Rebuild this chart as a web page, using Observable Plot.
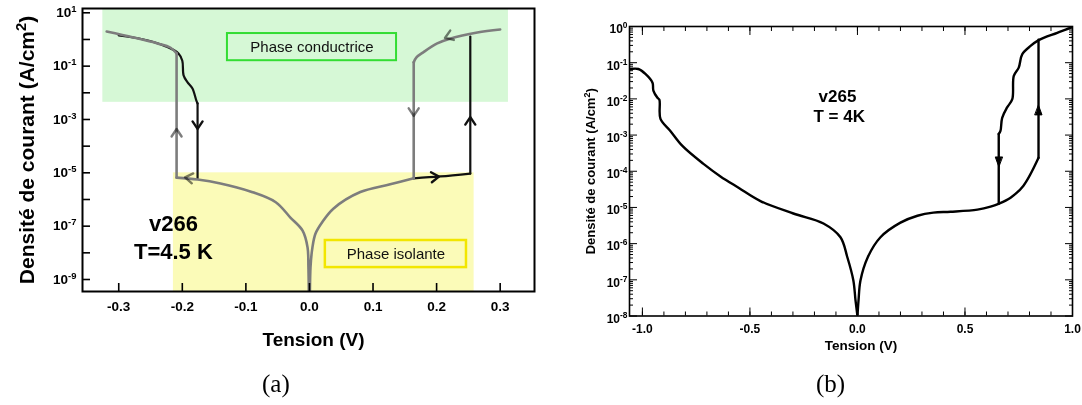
<!DOCTYPE html>
<html><head><meta charset="utf-8">
<script src="https://cdn.jsdelivr.net/npm/d3@7"></script>
<script src="https://cdn.jsdelivr.net/npm/@observablehq/plot@0.6"></script>
<style>
body{margin:0;background:#fff;width:1082px;height:405px;position:relative;overflow:hidden;font-family:"Liberation Sans",Arial,sans-serif}
#a{position:absolute;left:0;top:0}
#b{position:absolute;left:545px;top:0}
.cap{position:absolute;font-family:"Liberation Serif","DejaVu Serif",serif;font-size:25px;line-height:1;top:371px}
</style></head><body>
<div id="a"></div><div id="b"></div>
<div class="cap" style="left:262px">(a)</div>
<div class="cap" style="left:816px">(b)</div>
<script>
// ---------- Panel (a) data: v266, T=4.5 K ----------
const aXDomain = [-0.357, 0.354];
const aYDomain = [3.55e-10, 14.5];
const aXTicks = [-0.3, -0.2, -0.1, 0, 0.1, 0.2, 0.3];
const aYTicks = [1e-9, 1e-8, 1e-7, 1e-6, 1e-5, 1e-4, 1e-3, 1e-2, 1e-1, 1, 10];
const aYLabelTicks = [1e-9, 1e-7, 1e-5, 1e-3, 1e-1, 10];

const aGrayLeftV = [-0.319, -0.277, -0.239, -0.219, -0.209, -0.209];
const aGrayLeftJ = [2.0, 1.19, 0.71, 0.50, 0.30, 6.6e-6];
const aBlackLeftV = [-0.300, -0.261, -0.226, -0.206, -0.200, -0.198, -0.192, -0.184, -0.178, -0.176, -0.176];
const aBlackLeftJ = [1.41, 1.0, 0.55, 0.30, 0.16, 0.045, 0.025, 0.0146, 0.0052, 0.004, 6.2e-6];
const aCenterV = [-0.209, -0.176, -0.140, -0.093, -0.053, -0.030, -0.011, -0.003, -0.0016, 0, 0.0016, 0.0047, 0.0094, 0.020, 0.038, 0.080, 0.127, 0.164];
const aCenterJ = [6.6e-6, 5.6e-6, 4.0e-6, 2.0e-6, 7.9e-7, 2.1e-7, 6.9e-8, 1.6e-8, 2.8e-9, 1e-11, 2.8e-9, 1.6e-8, 5.2e-8, 1.4e-7, 4.6e-7, 1.9e-6, 3.7e-6, 6.2e-6];
const aGrayRightV = [0.300, 0.264, 0.222, 0.201, 0.179, 0.168, 0.164, 0.164];
const aGrayRightJ = [2.37, 1.82, 1.09, 0.71, 0.33, 0.21, 0.14, 6.2e-6];
const aBlackRightV = [0.164, 0.206, 0.253, 0.253];
const aBlackRightJ = [6.2e-6, 7.3e-6, 9.4e-6, 1.29];

const aArrowV   = [-0.209, -0.176, -0.198, 0.164, 0.253, 0.206, 0.211];
const aArrowJ   = [5e-4, 3.9e-4, 6.9e-6, 1.2e-3, 1.4e-3, 7.3e-6, 1.09];
const aArrowDir = [0, 180, 278, 180, 0, 85, 249];
const aArrowInk = ["gray", "black", "gray", "gray", "black", "black", "gray"];

const aConductZoneV = [-0.325, 0.313], aConductZoneJ = [4.4e-3, 14.5];
const aInsulZoneV = [-0.214, 0.259], aInsulZoneJ = [3.55e-10, 1.0e-5];
const aCondBoxV = [-0.129, 0.137], aCondBoxJ = [0.16, 1.67];
const aIsolBoxV = [0.025, 0.247], aIsolBoxJ = [2.8e-9, 2.9e-8];
const aBoxText = ["Phase conductrice", "Phase isolante"];
const aBoxTextV = [0.004, 0.136], aBoxTextJ = [0.52, 9e-9];
const aNotes = ["v266", "T=4.5 K"], aNoteV = [-0.214, -0.214], aNoteJ = [1.26e-7, 1.1e-8];

// ---------- Panel (b) data: v265, T = 4K ----------
const bXDomain = [-1.06, 1.0];
const bYDomain = [1e-8, 1];
const bXTicks = [-1.0, -0.5, 0, 0.5, 1.0];
const bYTicks = [1e-8, 1e-7, 1e-6, 1e-5, 1e-4, 1e-3, 1e-2, 1e-1, 1];

const bLeftV = [-1.056, -1.019, -0.986, -0.953, -0.949, -0.930, -0.921, -0.916, -0.870, -0.814, -0.716, -0.637, -0.553, -0.451, -0.298, -0.158, -0.079, -0.047, -0.019, -0.009, 0];
const bLeftJ = [0.067, 0.067, 0.049, 0.028, 0.017, 0.0107, 0.0094, 0.0028, 0.0013, 5.0e-4, 1.6e-4, 7.2e-5, 3.5e-5, 1.5e-5, 6.8e-6, 3.6e-6, 1.5e-6, 4.2e-7, 9.6e-8, 2.7e-8, 1e-8];
const bRightV = [0, 0.005, 0.014, 0.047, 0.107, 0.200, 0.279, 0.353, 0.433, 0.558, 0.619, 0.656, 0.712, 0.772, 0.842, 0.842];
const bRightJ = [1e-8, 2.7e-8, 9.6e-8, 4.1e-7, 1.5e-6, 3.8e-6, 5.9e-6, 7.2e-6, 7.6e-6, 8.7e-6, 1.05e-5, 1.26e-5, 1.86e-5, 4.0e-5, 2.35e-4, 0.43];
const bUpperV = [1.0, 0.991, 0.929, 0.843, 0.805, 0.766, 0.750, 0.727, 0.720, 0.696, 0.673, 0.665, 0.657, 0.657];
const bUpperJ = [1.0, 0.93, 0.67, 0.42, 0.29, 0.17, 0.073, 0.043, 0.0098, 0.0058, 0.0030, 0.0013, 0.00107, 1.26e-5];
const bArrowV = [0.657, 0.842], bArrowJ = [1.4e-4, 6.4e-3], bArrowDir = [180, 0];
const bNotes = ["v265", "T = 4K"], bNoteV = [-0.093, -0.085], bNoteJ = [0.0114, 0.0032];

// ---------- helpers ----------
// split a sweep into smooth runs and vertical jumps (same V), so that only the runs are smoothed
function pieces(V, J) {
  const out = []; let cur = null, id = 0;
  for (let i = 0; i < V.length - 1; i++) {
    const kind = V[i] === V[i + 1] ? "jump" : "run";
    if (!cur || cur.kind !== kind) { cur = {kind, id: id++, pts: [{V: V[i], J: J[i]}]}; out.push(cur); }
    cur.pts.push({V: V[i + 1], J: J[i + 1]});
  }
  return out.flatMap(p => p.pts.map(d => ({...d, seg: p.id, kind: p.kind})));
}
function sweep(V, J, opts) {
  const rows = pieces(V, J);
  return [
    Plot.line(rows.filter(d => d.kind === "run"), {x: "V", y: "J", z: "seg", curve: "catmull-rom", clip: true, ...opts}),
    Plot.line(rows.filter(d => d.kind === "jump"), {x: "V", y: "J", z: "seg", clip: true, ...opts})
  ];
}
const box = (V, J) => [{x1: V[0], x2: V[1], y1: J[0], y2: J[1]}];
const fmtPow = d => `10^{${Math.round(Math.log10(d))}}`;
const blank = () => "";
const chevron = {draw(c) { c.moveTo(-5, 4); c.lineTo(0, -3.5); c.lineTo(5, 4); }};
const tri = {draw(c) { c.moveTo(0, -5.5); c.lineTo(3.5, 4); c.lineTo(-3.5, 4); c.closePath(); }};
const bYMinor = bYTicks.slice(0, -1).flatMap(d => [2,3,4,5,6,7,8,9].map(k => k * d));
const bXMinor = d3.range(-10, 11).map(k => k / 10);
const font = "'Liberation Sans', Arial, sans-serif";
const GRAY = "#7d7d7d";
const blackA = {stroke: "#111", strokeWidth: 2.2};
const grayA = {stroke: GRAY, strokeWidth: 2.6, mixBlendMode: "multiply"};
const blackB = {stroke: "#000", strokeWidth: 2.4};

const aArrows = aArrowV.map((v, i) => ({V: v, J: aArrowJ[i], dir: aArrowDir[i], ink: aArrowInk[i]}));

const plotA = Plot.plot({
  width: 545, height: 360, marginLeft: 82, marginTop: 8, marginRight: 11, marginBottom: 69,
  x: {domain: aXDomain, label: null},
  y: {type: "log", domain: aYDomain, label: null},
  style: {fontFamily: font, color: "#000", background: "transparent"},
  marks: [
    Plot.rect(box(aConductZoneV, aConductZoneJ), {x1: "x1", x2: "x2", y1: "y1", y2: "y2", fill: "#d6f8d6"}),
    Plot.rect(box(aInsulZoneV, aInsulZoneJ), {x1: "x1", x2: "x2", y1: "y1", y2: "y2", fill: "#fbfbb8"}),
    Plot.rect(box(aCondBoxV, aCondBoxJ), {x1: "x1", x2: "x2", y1: "y1", y2: "y2", fill: "none", stroke: "#33dd33", strokeWidth: 2}),
    Plot.rect(box(aIsolBoxV, aIsolBoxJ), {x1: "x1", x2: "x2", y1: "y1", y2: "y2", fill: "none", stroke: "#f2e600", strokeWidth: 2.5}),
    Plot.text(aBoxText, {x: (d, i) => aBoxTextV[i], y: (d, i) => aBoxTextJ[i], text: d => d, fontSize: 15, fill: "#111"}),
    ...sweep(aBlackLeftV, aBlackLeftJ, blackA),
    ...sweep(aBlackRightV, aBlackRightJ, blackA),
    ...sweep(aGrayLeftV, aGrayLeftJ, grayA),
    ...sweep(aCenterV, aCenterJ, grayA),
    ...sweep(aGrayRightV, aGrayRightJ, grayA),
    Plot.vector(aArrows.filter(d => d.ink === "black"), {x: "V", y: "J", rotate: "dir", length: 10, shape: chevron, stroke: "#111", strokeWidth: 2.4}),
    Plot.vector(aArrows.filter(d => d.ink === "gray"), {x: "V", y: "J", rotate: "dir", length: 10, shape: chevron, stroke: GRAY, strokeWidth: 2.4, mixBlendMode: "multiply"}),
    Plot.text(aNotes, {x: (d, i) => aNoteV[i], y: (d, i) => aNoteJ[i], text: d => d, fontSize: 22, fontWeight: "bold", fill: "#000"}),
    Plot.axisY(aYLabelTicks, {anchor: "left", tickSize: 0, tickPadding: 6, tickFormat: fmtPow, fontSize: 13.5, fontWeight: "bold", label: null}),
    Plot.axisY(aYTicks, {anchor: "left", tickSize: -8, tickFormat: blank, strokeWidth: 1.6, label: null}),
    Plot.axisX(aXTicks, {anchor: "bottom", tickSize: 0, tickPadding: 10, tickFormat: d => d.toFixed(1), fontSize: 13.5, fontWeight: "bold", label: null}),
    Plot.axisX(aXTicks, {anchor: "bottom", tickSize: -8, tickFormat: blank, strokeWidth: 1.6, label: null}),
    Plot.text(["Densité de courant (A/cm^{2})"], {frameAnchor: "left", dx: -55, rotate: -90, textAnchor: "middle", lineAnchor: "middle", text: d => d, fontSize: 21, fontWeight: "bold"}),
    Plot.text(["Tension (V)"], {frameAnchor: "bottom", dx: 5, dy: 48, textAnchor: "middle", lineAnchor: "middle", text: d => d, fontSize: 19, fontWeight: "bold"}),
    Plot.frame({stroke: "#000", strokeWidth: 2})
  ]
});

const bArrows = bArrowV.map((v, i) => ({V: v, J: bArrowJ[i], dir: bArrowDir[i]}));

const plotB = Plot.plot({
  width: 537, height: 370, marginLeft: 84, marginTop: 26, marginRight: 10, marginBottom: 54.5,
  x: {domain: bXDomain, label: null},
  y: {type: "log", domain: bYDomain, label: null},
  style: {fontFamily: font, color: "#000", background: "transparent"},
  marks: [
    ...sweep(bLeftV, bLeftJ, blackB),
    ...sweep(bRightV, bRightJ, blackB),
    ...sweep(bUpperV, bUpperJ, blackB),
    Plot.vector(bArrows, {x: "V", y: "J", rotate: "dir", length: 10, shape: tri, fill: "#000", stroke: "#000", strokeWidth: 1}),
    Plot.text(bNotes, {x: (d, i) => bNoteV[i], y: (d, i) => bNoteJ[i], text: d => d, fontSize: 17, fontWeight: "bold", fill: "#000"}),
    Plot.axisY(bYTicks, {anchor: "left", tickSize: 0, tickPadding: 2, dy: 3, tickFormat: fmtPow, fontSize: 12, fontWeight: "bold", label: null}),
    Plot.axisY(bYTicks, {anchor: "left", tickSize: -8, tickFormat: blank, label: null}),
    Plot.axisY(bYMinor, {anchor: "left", tickSize: -4, tickFormat: blank, label: null}),
    Plot.axisY(bYTicks, {anchor: "right", tickSize: -8, tickFormat: blank, label: null}),
    Plot.axisY(bYMinor, {anchor: "right", tickSize: -4, tickFormat: blank, label: null}),
    Plot.axisX(bXTicks, {anchor: "bottom", tickSize: 0, tickPadding: 8, tickFormat: d => d.toFixed(1), fontSize: 12, fontWeight: "bold", label: null}),
    Plot.axisX(bXTicks, {anchor: "bottom", tickSize: -8, tickFormat: blank, label: null}),
    Plot.axisX(bXMinor, {anchor: "bottom", tickSize: -4, tickFormat: blank, label: null}),
    Plot.axisX(bXTicks, {anchor: "top", tickSize: -8, tickFormat: blank, label: null}),
    Plot.axisX(bXMinor, {anchor: "top", tickSize: -4, tickFormat: blank, label: null}),
    Plot.text(["Densité de courant (A/cm^{2})"], {frameAnchor: "left", dx: -39, rotate: -90, textAnchor: "middle", lineAnchor: "middle", text: d => d, fontSize: 13, fontWeight: "bold"}),
    Plot.text(["Tension (V)"], {frameAnchor: "bottom", dx: 10, dy: 30, textAnchor: "middle", lineAnchor: "middle", text: d => d, fontSize: 13.5, fontWeight: "bold"}),
    Plot.frame({stroke: "#000", strokeWidth: 1.6})
  ]
});

function supify(svg) {
  const NS = "http://www.w3.org/2000/svg";
  svg.querySelectorAll("text").forEach(t => {
    const targets = t.querySelector("tspan") ? [...t.querySelectorAll("tspan")] : [t];
    targets.forEach(el => {
      const s = el.textContent;
      if (!s.includes("^{")) return;
      el.textContent = "";
      const re = /\^\{([^}]*)\}/g;
      let last = 0, m;
      while ((m = re.exec(s))) {
        if (m.index > last) el.appendChild(document.createTextNode(s.slice(last, m.index)));
        const sup = document.createElementNS(NS, "tspan");
        sup.setAttribute("baseline-shift", "super");
        sup.setAttribute("font-size", "70%");
        sup.textContent = m[1];
        el.appendChild(sup);
        last = re.lastIndex;
      }
      if (last < s.length) el.appendChild(document.createTextNode(s.slice(last)));
    });
  });
}
supify(plotA); supify(plotB);
document.getElementById("a").appendChild(plotA);
document.getElementById("b").appendChild(plotB);
</script></body></html>
